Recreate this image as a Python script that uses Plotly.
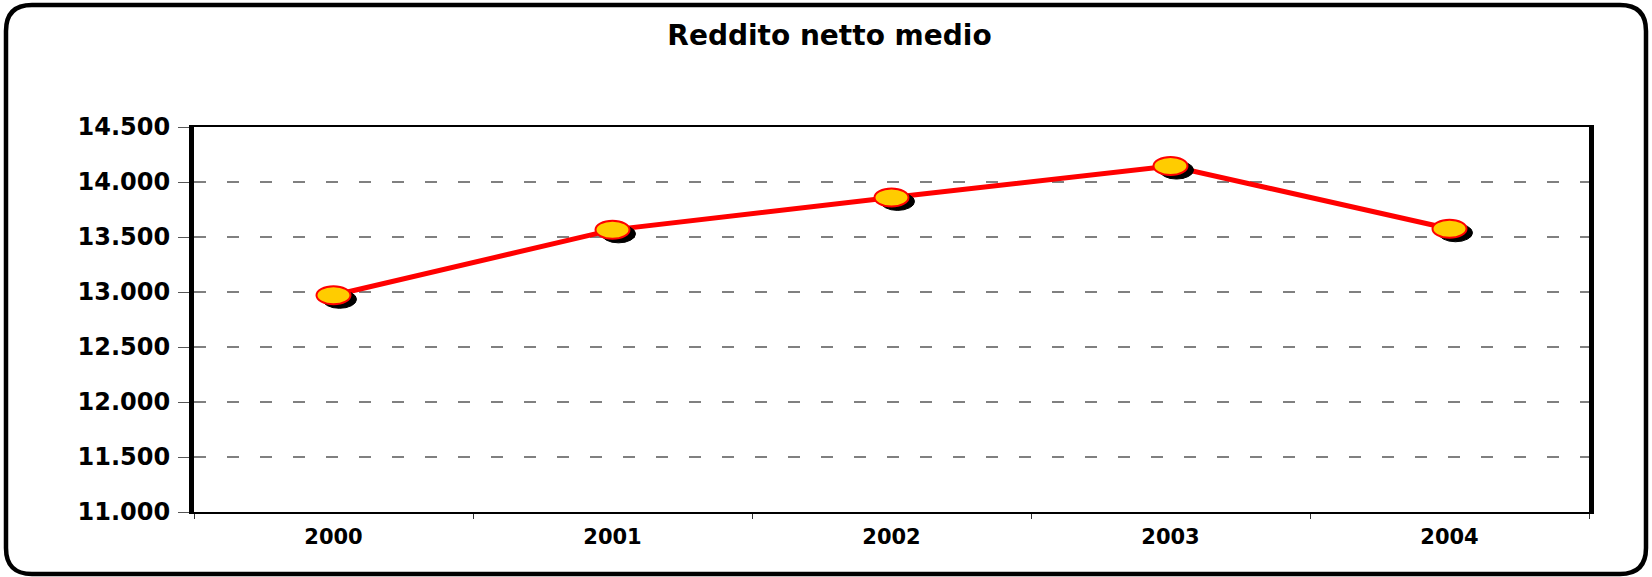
import plotly.graph_objects as go

# ---- data ----
years = ["2000", "2001", "2002", "2003", "2004"]
reddito = [12970, 13565, 13860, 14145, 13575]
y_ticks = [11000, 11500, 12000, 12500, 13000, 13500, 14000, 14500]
y_ticktext = ["11.000", "11.500", "12.000", "12.500", "13.000", "13.500", "14.000", "14.500"]
title_text = "Reddito netto medio"

# ---- layout geometry (pixels) ----
W, H = 1652, 577
ML, MR, MT, MB = 194, 63, 127, 65
PW, PH = W - ML - MR, H - MT - MB


def px2paper_x(px):
    return (px - ML) / PW


def px2paper_y(py):
    return (H - MB - py) / PH


FONT = "DejaVu Sans"

fig = go.Figure()
fig.add_trace(go.Scatter(
    x=years, y=reddito, mode="lines",
    line=dict(color="#FF0000", width=5),
    hoverinfo="skip", showlegend=False,
))

shapes = []
# markers: shadow + gold ellipse anchored at each data point (category index)
EW, EH = 17, 9
for i, yv in enumerate(reddito):
    shapes.append(dict(
        type="circle", xref="x", yref="y", xsizemode="pixel", ysizemode="pixel",
        xanchor=i, yanchor=yv, x0=-EW + 6, x1=EW + 6, y0=-EH - 4, y1=EH - 4,
        fillcolor="black", line=dict(color="black", width=1), layer="above",
    ))
    shapes.append(dict(
        type="circle", xref="x", yref="y", xsizemode="pixel", ysizemode="pixel",
        xanchor=i, yanchor=yv, x0=-EW, x1=EW, y0=-EH, y1=EH,
        fillcolor="#FFCC00", line=dict(color="#FF0000", width=2), layer="above",
    ))

# outer rounded border
L, R, T, B, Rad = 6, 1646, 5, 574, 26


def P(x, y):
    return f"{px2paper_x(x):.5f},{px2paper_y(y):.5f}"


path = (
    f"M {P(L + Rad, T)} L {P(R - Rad, T)} Q {P(R, T)} {P(R, T + Rad)} "
    f"L {P(R, B - Rad)} Q {P(R, B)} {P(R - Rad, B)} "
    f"L {P(L + Rad, B)} Q {P(L, B)} {P(L, B - Rad)} "
    f"L {P(L, T + Rad)} Q {P(L, T)} {P(L + Rad, T)} Z"
)
shapes.append(dict(type="path", xref="paper", yref="paper", path=path,
                   line=dict(color="black", width=4.5), layer="below"))

fig.update_layout(
    width=W, height=H,
    margin=dict(l=ML, r=MR, t=MT, b=MB),
    paper_bgcolor="white", plot_bgcolor="white",
    title=dict(text=title_text, x=829.5 / W, xref="container", xanchor="center",
               y=1 - 35 / H, yref="container", yanchor="middle",
               font=dict(family=FONT, size=28, color="black", weight="bold")),
    shapes=shapes,
    showlegend=False,
)
fig.update_xaxes(
    type="category", range=[-0.5, 4.5],
    showline=True, linewidth=2, linecolor="black", mirror=True,
    ticks="outside", tickson="boundaries", ticklen=5, tickcolor="#333", tickwidth=1,
    ticklabelstandoff=5,
    showgrid=False, zeroline=False,
    tickfont=dict(family=FONT, size=21, color="black", weight="bold"),
)
fig.update_yaxes(
    range=[11000, 14500], tickvals=y_ticks, ticktext=y_ticktext,
    showline=True, linewidth=5, linecolor="black", mirror=True,
    ticks="outside", ticklen=11, tickcolor="#555", tickwidth=1,
    ticklabelstandoff=3,
    showgrid=True, gridcolor="#808080", gridwidth=1.5, griddash="12px,21px",
    zeroline=False,
    tickfont=dict(family=FONT, size=24, color="black", weight="bold"),
)

fig.write_html(
    "out.html",
    config={"displayModeBar": False},
    post_script="document.body.style.margin='0';document.body.style.overflow='hidden';",
)
